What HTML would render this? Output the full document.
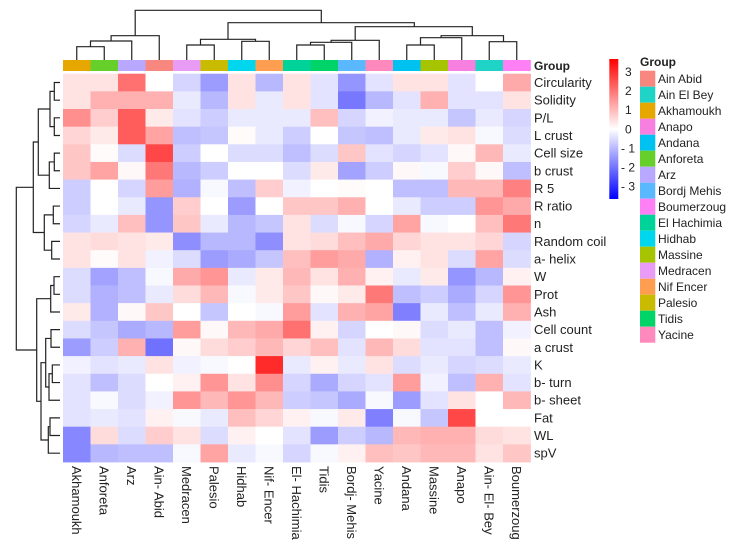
<!DOCTYPE html>
<html><head><meta charset="utf-8"><style>
body{margin:0;background:#fff;}
svg{display:block;font-family:"Liberation Sans",Arial,sans-serif;}
</style></head><body>
<svg id="chart" width="738" height="549" viewBox="0 0 738 549" xmlns="http://www.w3.org/2000/svg">
<g id="top-dendro" fill="none" stroke="#222" stroke-width="1.2">
<path d="M76.75,60V46.7H104.25V60 M90.5,46.7V41H131.75V60 M111.1,41V35.7H159.25V60 M135.2,35.7V10.3H321.3V22.7"/>
<path d="M186.75,60V45H214.25V60 M241.75,60V41.3H269.25V60 M200.5,45V39.3H255.5V41.3 M228,39.3V22.7H414.3V26.7"/>
<path d="M296.75,60V45H324.25V60 M310.5,45V42.3H351.75V60 M331.1,42.3V40.3H379.25V60 M355.2,40.3V26.7H472.3V35.7"/>
<path d="M406.75,60V45H434.25V60 M420.5,45V37.7H461.75V60 M441.1,37.7V35.7H503.5V41.7 M489.25,60V41.7H516.75V60"/>
</g>
<g id="left-dendro" fill="none" stroke="#222" stroke-width="1.2"></g>
<g id="annot"></g>
<g id="cells"></g>
<g id="rowlabels"></g>
<g id="collabels"></g>
<text x="534" y="70" font-size="12" font-weight="bold" fill="#222">Group</text>
<defs><linearGradient id="cbg" x1="0" y1="1" x2="0" y2="0"><stop offset="0" stop-color="#0000ff"/><stop offset="0.5" stop-color="#ffffff"/><stop offset="1" stop-color="#ff0000"/></linearGradient></defs>
<rect x="609.3" y="59" width="9" height="140" fill="url(#cbg)"/>
<g id="cbticks" font-size="12" fill="#222"></g>
<text x="640" y="66" font-size="12" font-weight="bold" fill="#222">Group</text>
<g id="legend"></g>
</svg>
<script>
const columns = ["Akhamoukh","Anforeta","Arz","Ain- Abid","Medracen","Palesio","Hidhab","Nif- Encer","El- Hachimia","Tidis","Bordj- Mehis","Yacine","Andana","Massine","Anapo","Ain- El- Bey","Boumerzoug"];
const columnGroups = ["Akhamoukh","Anforeta","Arz","Ain Abid","Medracen","Palesio","Hidhab","Nif Encer","El Hachimia","Tidis","Bordj Mehis","Yacine","Andana","Massine","Anapo","Ain El Bey","Boumerzoug"];
const rows = ["Circularity","Solidity","P/L","L crust","Cell size","b crust","R 5","R ratio","n","Random coil","a- helix","W","Prot","Ash","Cell count","a crust","K","b- turn","b- sheet","Fat","WL","spV"];
const values = [
[.4,.4,2.0,0,-.6,-1.4,.4,-1.0,.4,-.4,-1.5,-.4,.4,.4,-.4,0,1.2],
[.4,1.1,1.1,1.1,-.3,-1.0,.4,-.3,.4,-.4,-1.9,-1.0,-.4,1.1,-.4,-.4,.4],
[1.6,.7,2.3,.3,-.4,-.7,-.3,-.3,-.3,.9,-.6,-.2,-.3,-.3,-.8,-.3,-.6],
[.6,.3,2.3,1.3,-.9,-.8,.05,-.3,-.7,0,-.8,-.9,-.3,.3,.4,-.1,-.5],
[.8,.05,-.5,2.6,-.7,0,-.5,-.5,-.9,-.5,.8,-.4,-.6,-.4,.1,1.0,-.3],
[.8,1.3,.1,1.9,-1.0,-.7,0,0,-.5,.3,-1.3,-.7,.1,-.1,.7,.1,-.9],
[-.7,0,-.6,1.4,-1.1,-.1,-.9,.7,-.2,0,.05,0,-.9,-.9,1.0,1.0,1.8],
[-.7,0,-.3,-1.5,.7,0,-1.4,0,.8,.8,1.1,0,-.3,-.7,-.7,1.5,1.2],
[-.6,-.3,.9,-1.5,.8,-.3,-1.0,-.8,.4,-.5,-.1,-.6,1.3,-.1,0,.9,1.9],
[.4,.5,.4,.3,-1.6,-1.0,-1.0,-1.6,.4,.5,.9,1.2,.6,.4,.4,.6,-.6],
[.4,.05,.4,-.2,-.5,-1.4,-1.2,-.8,.9,1.4,1.2,-1.1,.2,.4,-.5,1.3,-.5],
[-.5,-1.3,-.9,-.1,1.2,1.5,-.3,.3,1.0,.4,1.1,.2,-.3,.3,-1.5,-1.0,.2],
[-.5,-1.1,-.9,-.3,.5,1.0,-.1,.3,.8,.1,.3,1.9,-.9,-.7,-1.2,-.6,1.5],
[.3,-1.1,.1,.8,0,-.8,0,-.1,1.4,-.4,1.1,1.3,-1.8,-.3,-.9,-.3,1.1],
[-.5,-.8,-1.2,-1.0,1.4,.1,1.0,1.2,2.0,.2,-.6,0,.1,-.5,-.3,-.9,-.2],
[-1.4,-.7,1.1,-2.0,.1,.5,.7,1.0,.6,.9,-.4,1.0,.5,-.4,-.4,-.9,.1],
[-.2,-.4,-.3,.4,-.2,-.1,0,3.0,-.3,.2,-.3,.4,-.5,-.3,-.6,-.5,-.3],
[-.4,-.9,-.5,0,.2,1.5,.4,1.6,-.6,-1.2,-.6,-.4,1.4,-.2,-.9,1.1,-.4],
[-.4,-.1,-.5,-.2,1.5,1.0,1.5,1.0,-.7,-.8,-1.2,-.1,-1.4,-.4,.4,0,1.0],
[-.4,-.3,-.4,.2,-.1,-.3,.9,.6,.2,-.1,.3,-1.8,-.1,-.8,2.6,0,0],
[-1.7,.5,-.5,.7,.4,-.5,.2,0,-.4,-1.4,-.7,-1.0,1.0,1.1,1.1,.5,.4],
[-1.7,-1.0,-.9,-.9,-.1,1.3,-.3,-.1,-.6,-.1,.2,.9,.8,1.0,1.0,.4,.8]
];
const legendGroups = ["Ain Abid","Ain El Bey","Akhamoukh","Anapo","Andana","Anforeta","Arz","Bordj Mehis","Boumerzoug","El Hachimia","Hidhab","Massine","Medracen","Nif Encer","Palesio","Tidis","Yacine"];
const legendColors = ["#F8877F","#1FD3C6","#E6A800","#F77FE0","#00C2F0","#66CF2A","#B8A8FF","#5AB8FF","#FF80F5","#00D39A","#00D6EE","#A6C400","#E89CF6","#FF9E50","#C9BB00","#00D468","#FF88BC"];
const scaleTicks = [3,2,1,0,-1,-2,-3];

const NS="http://www.w3.org/2000/svg";
const X0=63, CW=27.5, Y0=73.7, RH=17.65, VMAX=3.6;
const xPos=i=>X0+i*CW;
const yPos=j=>Y0+j*RH;
const yScale=v=>129.3-v*19.1;
function color(v){
  const t=Math.max(-1,Math.min(1,v/VMAX));
  const c=Math.round(255*(1-Math.abs(t)));
  return t>=0?`rgb(255,${c},${c})`:`rgb(${c},${c},255)`;
}
function mk(tag,attrs,parent){const e=document.createElementNS(NS,tag);for(const k in attrs)e.setAttribute(k,attrs[k]);parent.appendChild(e);return e;}

const cells=document.getElementById('cells');
values.forEach((row,j)=>row.forEach((v,i)=>{
  const r=mk('rect',{x:xPos(i),y:yPos(j),width:CW+0.4,height:RH+0.4,fill:color(v)},cells);
  
  
}));
const annot=document.getElementById('annot');
columnGroups.forEach((g,i)=>{
  const r=mk('rect',{x:xPos(i),y:60,width:CW+0.3,height:11,fill:legendColors[legendGroups.indexOf(g)]},annot);
  
  
});
const rl=document.getElementById('rowlabels');
rows.forEach((n,j)=>{
  const t=mk('text',{x:534,y:yPos(j)+RH/2+4.5,'font-size':13,fill:'#222'},rl);
  t.textContent=n;
  
  
});
const cl=document.getElementById('collabels');
columns.forEach((n,i)=>{
  const cx=xPos(i)+CW/2-5, cy=466;
  const t=mk('text',{x:cx,y:cy,'font-size':13,fill:'#222',transform:`rotate(90 ${cx} ${cy})`},cl);
  t.textContent=n;
  
  
});
const cb=document.getElementById('cbticks');
scaleTicks.forEach(v=>{
  const t=mk('text',{x:v<0?621:625,y:yScale(v)+4},cb);
  t.textContent=v<0?('- '+Math.abs(v)):String(v);
  
  
});
const lg=document.getElementById('legend');
legendGroups.forEach((g,k)=>{
  const r=mk('rect',{x:640,y:70.7+k*16,width:15.3,height:16,fill:legendColors[k]},lg);
  
  
  const t=mk('text',{x:658,y:70.7+k*16+12.5,'font-size':12,fill:'#222'},lg);
  t.textContent=g;
  
  
});
// row dendrogram
const rc=j=>yPos(j)+RH/2;
const L=60;
const d=[
`M${L},${rc(0)}H54.3V${rc(1)}H${L}`,
`M${L},${rc(2)}H54.3V${rc(3)}H${L}`,
`M54.3,${(rc(0)+rc(1))/2}H50V${(rc(2)+rc(3))/2}H54.3`,
`M${L},${rc(4)}H54.3V${rc(5)}H${L}`,
`M54.3,${(rc(4)+rc(5))/2}H49.3V${rc(6)}H${L}`,
`M50,${(rc(0)+rc(3))/2}H38.3V${((rc(4)+rc(5))/2+rc(6))/2}H49.3`,
`M${L},${rc(7)}H53.3V${rc(8)}H${L}`,
`M${L},${rc(9)}H51.7V${rc(10)}H${L}`,
`M53.3,${(rc(7)+rc(8))/2}H44.3V${(rc(9)+rc(10))/2}H51.7`,
`M38.3,142H33.3V232.5H44.3`,
`M${L},${rc(11)}H54V${rc(12)}H${L}`,
`M54,${(rc(11)+rc(12))/2}H50.7V${rc(13)}H${L}`,
`M${L},${rc(14)}H51V${rc(15)}H${L}`,
`M${L},${rc(16)}H52.3V${rc(17)}H${L}`,
`M52.3,${(rc(16)+rc(17))/2}H49V${rc(18)}H${L}`,
`M51,${(rc(14)+rc(15))/2}H45.7V387H49`,
`M${L},${rc(19)}H50V${rc(20)}H${L}`,
`M50,${(rc(19)+rc(20))/2}H48.3V${rc(21)}H${L}`,
`M45.7,362.7H41V440H48.3`,
`M50.7,298.7H36.7V401.3H41`,
`M33.3,187.3H16.3V350H36.7`
];
const ld=document.getElementById('left-dendro');
d.forEach(p=>{const e=mk('path',{d:p},ld);});
</script>
</body></html>
